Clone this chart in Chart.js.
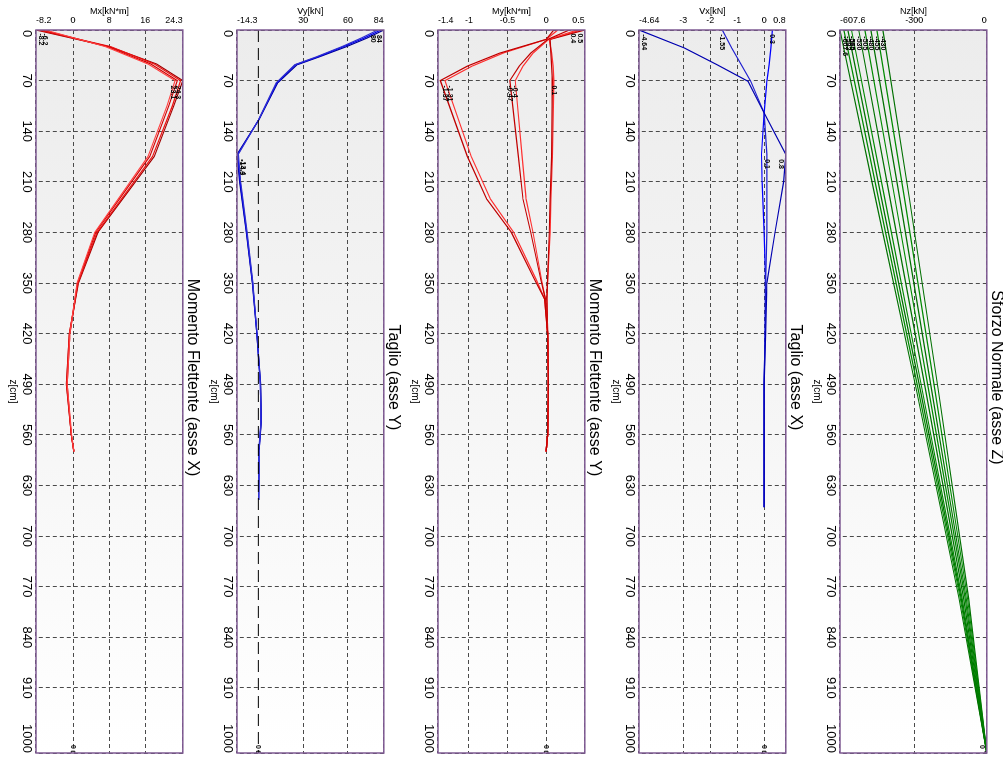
<!DOCTYPE html>
<html>
<head>
<meta charset="utf-8">
<script src="https://cdn.jsdelivr.net/npm/chart.js@4.4.0/dist/chart.umd.min.js"></script>
<style>
  html, body { margin: 0; padding: 0; background: #fff; overflow: hidden; }
  #sheet { position: absolute; left: 0; top: 0; width: 758px; height: 1003px;
           transform-origin: 0 0; transform: translateX(1003px) rotate(90deg); }
  .panel { position: absolute; left: 0; width: 758px; height: 200px; }
  canvas { display: block; }
</style>
</head>
<body>
<div id="sheet">
  <div class="panel" style="top:-5px"><canvas id="cNz" width="758" height="200"></canvas></div>
  <div class="panel" style="top:196px"><canvas id="cVx" width="758" height="200"></canvas></div>
  <div class="panel" style="top:397px"><canvas id="cMy" width="758" height="200"></canvas></div>
  <div class="panel" style="top:598px"><canvas id="cVy" width="758" height="200"></canvas></div>
  <div class="panel" style="top:799px"><canvas id="cMx" width="758" height="200"></canvas></div>
</div>
<script>
// asse z comune
const zTicks = [0, 70, 140, 210, 280, 350, 420, 490, 560, 630, 700, 770, 840, 910, 1000];

// Momento flettente asse X
const zMx = [0, 23, 47, 70, 105, 175, 280, 350, 420, 490, 560, 583];
const mx1 = [-8.2, 8.0, 18.5, 24.3, 22.3, 18.0, 5.5, 1.2, -0.8, -1.5, -0.4, 0.2];
const mx2 = [-7.6, 8.3, 18.0, 23.8, 22.0, 17.6, 5.3, 1.1, -0.8, -1.4, -0.4, 0.2];
const mx3 = [-6.8, 7.6, 17.2, 23.1, 21.2, 17.0, 5.0, 1.0, -0.7, -1.3, -0.4, 0.2];
const mx4 = [-6.2, 7.2, 16.6, 22.6, 20.8, 16.6, 4.8, 0.9, -0.7, -1.3, -0.3, 0.2];
const mxTicks = [-8.2, 0, 8, 16, 24.3];
const mxLabZ = [2, 2, 74, 74];
const mxLabV = [-8.2, -6.2, 24.3, 23.1];

// Taglio asse Y
const zVy = [0, 11, 23, 37, 48, 73, 124, 172, 210, 280, 350, 420, 490, 540, 580, 650];
const vy1 = [84, 73, 59, 41, 26, 13, 0.5, -14.3, -12.5, -8, -4, -1, 1.5, 2, 0.5, 0.2];
const vy2 = [82, 71, 57, 40, 25, 12.5, 0.3, -13.8, -12.2, -7.8, -3.9, -1, 1.4, 1.9, 0.5, 0.2];
const vy3 = [80, 69, 56, 39, 24.5, 12, 0.2, -13.4, -11.8, -7.5, -3.7, -0.9, 1.3, 1.8, 0.4, 0.2];
const vyTicks = [-14.3, 30, 60, 84];
const vyLabZ = [4, 4, 176, 176];
const vyLabV = [84, 80, -14.3, -13.4];

// Momento flettente asse Y
const zMy = [0, 13, 32, 50, 70, 175, 234, 280, 345, 372, 420, 490, 560, 583];
const my1 = [0.1, 0.0, -0.6, -1.02, -1.37, -1.02, -0.77, -0.45, -0.15, -0.02, 0.02, 0.03, 0.02, 0.0];
const my2 = [0.15, 0.0, -0.56, -0.96, -1.31, -0.97, -0.72, -0.42, -0.13, -0.02, 0.02, 0.03, 0.02, 0.0];
const my3 = [0.3, 0.02, -0.2, -0.35, -0.47, -0.36, -0.30, -0.2, -0.07, -0.01, 0.02, 0.03, 0.02, 0.0];
const my4 = [0.4, 0.03, -0.17, -0.3, -0.40, -0.31, -0.26, -0.17, -0.06, -0.01, 0.02, 0.03, 0.02, 0.0];
const my5 = [0.5, 0.05, 0.06, 0.07, 0.08, 0.07, 0.05, 0.04, 0.02, 0.01, 0.02, 0.03, 0.02, 0.0];
const my6 = [0.45, 0.04, 0.07, 0.09, 0.1, 0.08, 0.06, 0.05, 0.02, 0.01, 0.02, 0.03, 0.02, 0.0];
const myTicks = [-1.4, -1, -0.5, 0, 0.5];
const myLabZ = [74, 74, 74, 74, 74, 2, 2];
const myLabV = [-1.37, -1.31, -0.47, -0.4, 0.1, 0.5, 0.4];

// Taglio asse X
const zVx = [0, 25, 48, 71, 115, 172, 210, 280, 350, 420, 490, 560, 660];
const vx1 = [-4.64, -2.95, -1.75, -0.6, 0.0, 0.8, 0.72, 0.4, 0.1, 0.05, 0.0, 0.0, 0.0];
const vx2 = [-1.55, -1.2, -0.85, -0.5, 0.0, 0.1, 0.1, 0.1, 0.05, 0.03, 0.0, 0.0, 0.0];
const vx3 = [0.3, 0.25, 0.18, 0.1, 0.0, -0.1, -0.08, 0.0, 0.05, 0.03, 0.0, 0.0, 0.0];
const vxTicks = [-4.64, -3, -2, -1, 0, 0.8];
const vxLabZ = [3, 3, 3, 176, 176];
const vxLabV = [-4.64, -1.55, 0.3, 0.8, 0.1];

// Sforzo normale asse Z
const zNz = [0, 234, 500, 786, 1000];
const nz1 = [-607.6, -460, -290, -115, 0];
const nz2 = [-592, -448, -282, -110, 0];
const nz3 = [-575, -435, -274, -106, 0];
const nz4 = [-560, -422, -266, -102, 0];
const nz5 = [-530, -400, -252, -96, 0];
const nz6 = [-505, -380, -240, -90, 0];
const nz7 = [-480, -360, -227, -85, 0];
const nz8 = [-455, -340, -214, -80, 0];
const nz9 = [-430, -320, -200, -75, 0];
const nzTicks = [-607.6, -300, 0];
const nzLabZ = [6, 6, 6, 6, 6, 6, 6, 6, 6];
const nzLabV = [-607.6, -592, -575, -560, -530, -505, -480, -455, -430];

function pts(zs, vs) {
    return zs.map((z, i) => ({ x: z, y: vs[i] }));
}

function labels(zs, vs) {
    return zs.map((z, i) => ({ z: z, v: vs[i], t: String(vs[i]) })).concat([{ z: 1000, v: 0, t: '0' }]);
}

function serie(zs, vs, color, width) {
    return { data: pts(zs, vs), borderColor: color, borderWidth: width || 1.2,
             showLine: true, pointRadius: 0, fill: false, tension: 0 };
}

// marcatore finale (z = 1000)
function endMark() {
    return { data: [{ x: 1000, y: 0 }], showLine: false, pointStyle: 'rect',
             pointRadius: 2.5, borderColor: '#000', backgroundColor: '#fff', borderWidth: 1 };
}

// sfondo, cornice, etichette dell'asse dei valori e valori notevoli
const framePlugin = {
    id: 'frame',
    beforeDraw(chart) {
        const { ctx, chartArea: a } = chart;
        const g = ctx.createLinearGradient(a.left, 0, a.right, 0);
        g.addColorStop(0, '#ececec');
        g.addColorStop(0.55, '#f6f6f6');
        g.addColorStop(1, '#ffffff');
        ctx.save();
        ctx.fillStyle = g;
        ctx.fillRect(a.left, a.top, a.right - a.left, a.bottom - a.top);
        ctx.restore();
    },
    afterDraw(chart) {
        const { ctx, chartArea: a } = chart;
        const xs = chart.scales.x;
        const ys = chart.scales.y;
        const opts = chart.options.plugins.frame;
        ctx.save();
        ctx.strokeStyle = '#7e5a92';
        ctx.lineWidth = 1.5;
        ctx.strokeRect(a.left, a.top, a.right - a.left, a.bottom - a.top);

        // etichette asse valori (ruotate)
        ctx.fillStyle = '#000';
        ctx.font = '9px Arial, "Liberation Sans", sans-serif';
        ctx.textBaseline = 'middle';
        opts.ticks.forEach((v, i) => {
            const p = ys.getPixelForValue(v);
            ctx.save();
            ctx.translate(21, p);
            ctx.rotate(-Math.PI / 2);
            ctx.textAlign = i === 0 ? 'left' : (i === opts.ticks.length - 1 ? 'right' : 'center');
            ctx.fillText(String(v), 0, 0);
            ctx.restore();
        });

        // valori notevoli
        ctx.font = 'bold 7px Arial, "Liberation Sans", sans-serif';
        opts.labels.forEach(l => {
            const px = xs.getPixelForValue(l.z);
            const py = ys.getPixelForValue(l.v);
            let base = 'middle', dy = 0;
            if (py - a.top < 8) { base = 'top'; dy = 1; }
            else if (a.bottom - py < 8) { base = 'bottom'; dy = -1; }
            ctx.textBaseline = base;
            if (l.z > 950) {
                ctx.textAlign = 'right';
                ctx.fillText(l.t, px - 4, py + dy);
            } else {
                ctx.textAlign = 'left';
                ctx.fillText(l.t, px + 2, py + dy);
            }
        });
        ctx.restore();
    }
};

function makePanel(id, title, unit, vTicks, labs, datasets) {
    new Chart(document.getElementById(id), {
        type: 'scatter',
        data: { datasets: datasets },
        options: {
            responsive: false,
            animation: false,
            layout: { padding: { left: 0, right: 3, top: 0, bottom: 0 } },
            plugins: {
                legend: { display: false },
                tooltip: { enabled: false },
                frame: { ticks: vTicks, labels: labs },
                title: {
                    display: true, text: title, color: '#000',
                    font: { family: 'Arial', size: 16, weight: 'normal' },
                    padding: { top: 2, bottom: 0 }
                }
            },
            scales: {
                x: {
                    type: 'linear', position: 'bottom', min: 0, max: 1000,
                    afterBuildTicks: s => { s.ticks = zTicks.map(v => ({ value: v })); },
                    afterFit: s => { s.height = 32; },
                    ticks: { align: 'inner', autoSkip: false, maxRotation: 0, padding: 2,
                             color: '#000', font: { family: 'Arial', size: 13 },
                             callback: v => String(v) },
                    grid: { color: '#4a4a4a', lineWidth: 1, drawTicks: false },
                    border: { display: false, dash: [4, 3] },
                    title: { display: true, text: 'z[cm]', color: '#000',
                             font: { family: 'Arial', size: 10 }, padding: { top: 0, bottom: 3 } }
                },
                y: {
                    type: 'linear', position: 'left',
                    min: vTicks[0], max: vTicks[vTicks.length - 1],
                    afterBuildTicks: s => { s.ticks = vTicks.map(v => ({ value: v })); },
                    afterFit: s => { s.width = 30; },
                    ticks: { display: false },
                    grid: { color: '#4a4a4a', lineWidth: 1, drawTicks: false },
                    border: { display: false, dash: [4, 3] },
                    title: { display: true, text: unit, color: '#000',
                             font: { family: 'Arial', size: 9 }, padding: { top: 6, bottom: 0 } }
                }
            }
        },
        plugins: [framePlugin]
    });
}

makePanel('cMx', 'Momento Flettente (asse X)', 'Mx[kN*m]', mxTicks, labels(mxLabZ, mxLabV), [
    serie(zMx, mx4, '#ff4040'), serie(zMx, mx3, '#d00000'),
    serie(zMx, mx2, '#ee1111'), serie(zMx, mx1, '#a00000'), endMark()
]);

makePanel('cVy', 'Taglio (asse Y)', 'Vy[kN]', vyTicks, labels(vyLabZ, vyLabV), [
    { data: pts([0, 1000], [0, 0]), showLine: true, pointRadius: 0, borderColor: '#000',
      borderWidth: 1, borderDash: [12, 6] },
    serie(zVy, vy3, '#3030d0'), serie(zVy, vy2, '#0000ee'), serie(zVy, vy1, '#000090'), endMark()
]);

makePanel('cMy', 'Momento Flettente (asse Y)', 'My[kN*m]', myTicks, labels(myLabZ, myLabV), [
    serie(zMy, my1, '#c00000'), serie(zMy, my2, '#ff3030'),
    serie(zMy, my3, '#c00000'), serie(zMy, my4, '#ff3030'),
    serie(zMy, my5, '#c00000'), serie(zMy, my6, '#ff3030'), endMark()
]);

makePanel('cVx', 'Taglio (asse X)', 'Vx[kN]', vxTicks, labels(vxLabZ, vxLabV), [
    serie(zVx, vx1, '#0000b0'), serie(zVx, vx2, '#2020d0'), serie(zVx, vx3, '#0000ff'), endMark()
]);

makePanel('cNz', 'Sforzo Normale (asse Z)', 'Nz[kN]', nzTicks, labels(nzLabZ, nzLabV), [
    serie(zNz, nz1, '#007000'), serie(zNz, nz2, '#008a00'), serie(zNz, nz3, '#007000'),
    serie(zNz, nz4, '#008a00'), serie(zNz, nz5, '#007000'), serie(zNz, nz6, '#008a00'),
    serie(zNz, nz7, '#007000'), serie(zNz, nz8, '#008a00'), serie(zNz, nz9, '#007000'), endMark()
]);
</script>
</body>
</html>
